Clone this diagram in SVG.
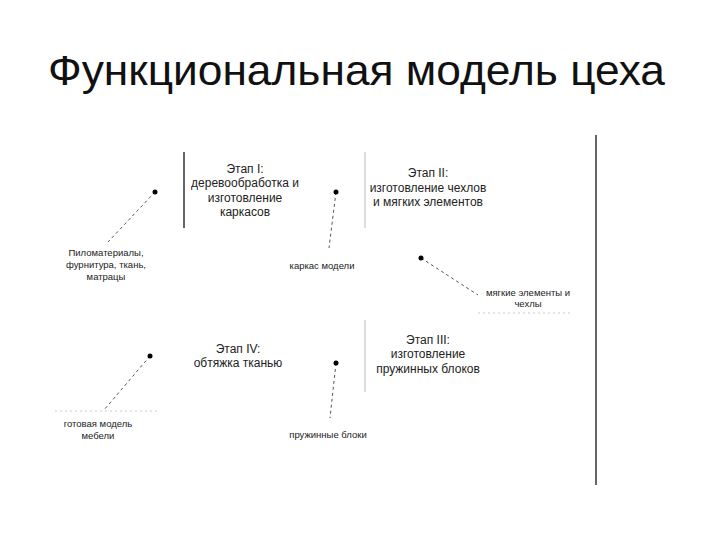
<svg xmlns="http://www.w3.org/2000/svg" width="720" height="540" viewBox="0 0 720 540">
<style>
.t{font-family:"Liberation Sans",Arial,sans-serif;fill:#222;text-anchor:middle}
.st{font-size:12px}
.lb{font-size:9.5px}
.dash{stroke:#555;stroke-width:1;stroke-dasharray:3,3;fill:none}
.faint{stroke:#ccc;stroke-width:1;stroke-dasharray:2,3;fill:none}
</style>
<rect width="720" height="540" fill="#fff"/>
<text x="48" y="85" font-family="Liberation Sans,Arial,sans-serif" font-size="42" textLength="617" lengthAdjust="spacingAndGlyphs" fill="#111">Функциональная модель цеха</text>
<g id="lines">
<line x1="184" y1="152" x2="184" y2="228" stroke="#333" stroke-width="1.5"/>
<line x1="365" y1="152" x2="365" y2="228" stroke="#bbb"/>
<line x1="365" y1="320" x2="365" y2="392" stroke="#bbb"/>
<line x1="596" y1="135" x2="596" y2="485" stroke="#333" stroke-width="1.5"/>
</g>
<g id="connectors">
<path class="dash" d="M155,192 L108,242"/>
<path class="dash" d="M336,192 L329,248"/>
<path class="dash" d="M421,258 L478,295"/>
<path class="dash" d="M150,356 L104,410"/>
<path class="dash" d="M336,363 L330,418"/>
<path class="faint" d="M478,313 L570,313"/>
<path class="faint" d="M55,411 L160,411"/>
</g>
<g id="dots" fill="#000">
<circle cx="155" cy="192" r="2.5"/><circle cx="336" cy="192" r="2.5"/><circle cx="421" cy="258" r="2.5"/><circle cx="150" cy="356" r="2.5"/><circle cx="336" cy="363" r="2.5"/>
</g>
<g id="stage1" class="t st"><text x="245" y="173">Этап I:</text><text x="245" y="187">деревообработка и</text><text x="245" y="202">изготовление</text><text x="245" y="216">каркасов</text></g>
<g id="stage2" class="t st"><text x="428" y="177">Этап II:</text><text x="428" y="192">изготовление чехлов</text><text x="428" y="206">и мягких элементов</text></g>
<g id="stage3" class="t st"><text x="428" y="344">Этап III:</text><text x="428" y="358">изготовление</text><text x="428" y="373">пружинных блоков</text></g>
<g id="stage4" class="t st"><text x="238" y="353">Этап IV:</text><text x="238" y="367">обтяжка  тканью</text></g>
<g id="in1" class="t lb"><text x="106" y="256">Пиломатериалы,</text><text x="106" y="268">фурнитура, ткань,</text><text x="106" y="280">матрацы</text></g>
<g id="out1" class="t lb"><text x="322" y="269">каркас модели</text></g>
<g id="out2" class="t lb"><text x="528" y="296">мягкие элементы и</text><text x="528" y="307">чехлы</text></g>
<g id="out4" class="t lb"><text x="98" y="427">готовая модель</text><text x="98" y="439">мебели</text></g>
<g id="out3" class="t lb"><text x="328" y="438">пружинные блоки</text></g>
</svg>
